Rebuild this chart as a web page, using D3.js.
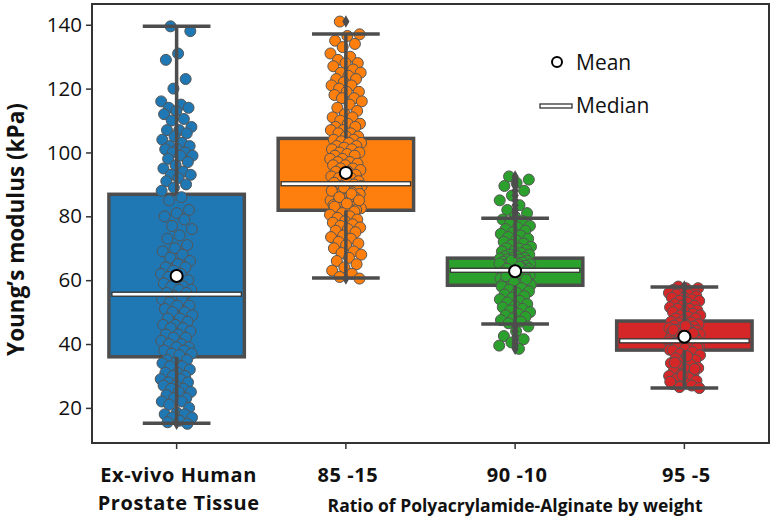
<!DOCTYPE html>
<html>
<head>
<meta charset="utf-8">
<script src="https://cdn.jsdelivr.net/npm/d3@7"></script>
<style>
  body { margin: 0; background: #fff; }
  svg { display: block; }
</style>
</head>
<body>
<svg id="chart" width="778" height="522"></svg>
<script>
// categories and tick labels
const categories = ["tissue", "85-15", "90-10", "95-5"];
const tickLabels = [["Ex-vivo Human", "Prostate Tissue"], ["85 -15"], ["90 -10"], ["95 -5"]];
const colors = ["#1f77b4", "#ff7f0e", "#2ca02c", "#d62728"];
const yTicks = [20, 40, 60, 80, 100, 120, 140];

// box statistics
const q1 = [36.0, 81.9, 58.4, 38.1];
const medians = [55.6, 90.2, 63.1, 41.0];
const q3 = [86.9, 104.4, 66.9, 47.2];
const whiskerLow = [15.2, 60.7, 46.3, 26.2];
const whiskerHigh = [139.5, 137.1, 79.4, 57.9];
const means = [61.3, 93.6, 62.8, 42.3];

// individual measurements (kPa)
const tissuePoints = [
  139.5, 138, 131, 129, 123, 120, 116, 115, 114, 114, 113, 112, 110.5, 110, 108, 107, 107, 106, 105, 104,
  103, 102, 102, 101, 101, 100, 100, 99, 99, 98, 97, 96, 95, 94, 93, 93, 92, 91, 90, 89, 88,
  86, 85, 82, 81, 80, 79, 77, 76, 74, 73, 71, 70, 69, 68, 67, 66, 65, 64, 64, 63, 62, 62, 61, 60, 60,
  59, 58, 58, 57, 57, 56, 56,
  55, 54, 54, 53, 52, 52, 51, 50, 50, 49, 48, 48, 47, 46, 46, 45, 45, 44, 43, 43, 42, 42, 41, 40, 40,
  39, 39, 38, 38, 37, 37, 36.5,
  35, 35, 34, 34, 33, 33, 32, 31, 31, 30, 30, 29, 29, 28, 28, 27, 27, 26, 26, 25, 25, 24, 23, 23, 22,
  22, 21, 20, 18.5, 18, 18, 17, 17, 16, 15.5, 15
];
const pa8515Points = [
  141, 137, 136.5, 135, 134, 133, 131, 130, 129, 128, 128, 127, 126, 125, 125, 124, 123, 123, 122, 121,
  121, 120, 119, 119, 118, 117, 117, 116, 115, 114, 113, 112, 111, 111, 110, 109, 109, 108, 108, 107,
  107, 106, 106, 105, 105,
  104, 104, 103.5, 103, 103, 102, 102, 101.5, 101, 101, 100, 100, 99.5, 99, 99, 98, 98, 97, 97, 96.5,
  96, 96, 95, 95, 94.5, 94, 94, 93, 93, 92.5, 92, 92, 91, 91, 90.5, 90,
  89.5, 89.5, 89, 89, 88.5, 88, 88, 87.5, 87, 87, 86.5, 86, 86, 85.5, 85, 85, 84.5, 84, 84, 83.5,
  83, 83, 82.5, 82.5, 82, 82, 89, 88, 87, 86, 85, 84, 83,
  81.5, 81, 80.5, 80, 79.5, 79, 78.5, 78, 77.5, 77, 76.5, 76, 75.5, 75, 74, 73.5, 73, 72, 71.5, 71,
  70, 69, 68.5, 68, 67, 66, 65, 64, 63, 62, 61, 60.5
];
const pa9010Points = [
  92.5, 91.5, 90.5, 89.5, 88, 86.5, 85, 83.5, 82, 81, 80,
  79, 78.5, 78, 77, 76.5, 76, 75.5, 75, 74.5, 74, 73.5, 73, 72.5, 72, 71.5, 71, 70.5, 70, 70, 69.5,
  69, 69, 68.5, 68, 68, 67.5, 67.5, 67, 67,
  66.8, 66.5, 66.5, 66, 66, 65.8, 65.5, 65.5, 65, 65, 64.8, 64.5, 64.5, 64, 64, 63.8, 63.5, 63.5,
  63.2, 63, 66.2, 65.2, 64.2, 63.6,
  62.8, 62.5, 62.5, 62, 62, 61.5, 61.5, 61, 61, 60.5, 60.5, 60, 60, 59.5, 59.5, 59, 59, 58.5, 58.5,
  62.2, 61.2, 60.2, 59.2,
  58, 57.5, 57, 56.5, 56, 55.5, 55, 54.5, 54, 53.5, 53, 52.5, 52, 51.5, 51, 50.5, 50, 49.5, 49,
  48.5, 48, 47.5, 47, 46.5, 45.5, 44, 42.5, 41.5, 40.5, 39.5, 38.5
];
const pa955Points = [
  58, 57.5, 57.5, 57, 56.5, 56.5, 56, 55.5, 55.5, 55, 54.5, 54.5, 54, 53.5, 53.5, 53, 52.5, 52, 52,
  51.5, 51, 51, 50.5, 50, 50, 49.5, 49, 49, 48.5, 48, 48, 47.5,
  47, 46.8, 46.5, 46.2, 46, 45.8, 45.5, 45.2, 45, 44.8, 44.5, 44.2, 44, 43.8, 43.5, 43.2, 43, 42.8,
  42.5, 42.2, 42, 41.8, 41.5, 41.2, 41, 45.6, 44.4, 43.4, 42.4,
  40.8, 40.6, 40.4, 40.2, 40, 39.8, 39.6, 39.4, 39.2, 39, 38.8, 38.6, 38.4, 38.2, 40.5, 39.5, 39, 38.5,
  38, 37.5, 37, 36.5, 36, 35.5, 35, 34.5, 34, 33.5, 33, 32.5, 32, 31.5, 31, 30.5, 30, 29.5, 29,
  28.5, 28, 27.5, 27, 26.5, 26.2, 36.2, 34.2, 32.2, 30.2, 28.2
];
const groupPoints = [tissuePoints, pa8515Points, pa9010Points, pa955Points];

const plot = { left: 92, right: 769, top: 4, bottom: 443 };
const svg = d3.select("#chart");
const font = "'Open Sans', 'Noto Sans', sans-serif";
const edge = "#4d4d4d";

const x = d3.scaleBand().domain(categories).range([plot.left, plot.right]).padding(0);
const y = d3.scaleLinear().domain([9, 146.5]).range([plot.bottom, plot.top]);

const bw = x.bandwidth() * 0.8;
const cx = c => x(c) + x.bandwidth() / 2;

categories.forEach((c, i) => {
  const g = svg.append("g");
  const xc = cx(c);
  // box
  g.append("rect")
    .attr("x", xc - bw / 2).attr("width", bw)
    .attr("y", y(q3[i])).attr("height", y(q1[i]) - y(q3[i]))
    .attr("fill", colors[i]).attr("stroke", edge).attr("stroke-width", 3.5);

  // jittered points
  g.selectAll("circle.pt")
    .data(groupPoints[i])
    .join("circle")
    .attr("class", "pt")
    .attr("cx", (d, k) => xc + (((k * 0.618034 + 0.31) % 1) - 0.5) * 2 * 16)
    .attr("cy", d => y(d))
    .attr("r", 5.5)
    .attr("fill", colors[i])
    .attr("stroke", "#555")
    .attr("stroke-width", 1);

  // whiskers
  g.append("line").attr("x1", xc).attr("x2", xc)
    .attr("y1", y(q3[i])).attr("y2", y(whiskerHigh[i]))
    .attr("stroke", edge).attr("stroke-width", 3.5);
  g.append("line").attr("x1", xc).attr("x2", xc)
    .attr("y1", y(q1[i])).attr("y2", y(whiskerLow[i]))
    .attr("stroke", edge).attr("stroke-width", 3.5);
  [whiskerLow[i], whiskerHigh[i]].forEach(v => {
    g.append("line").attr("x1", xc - bw / 4).attr("x2", xc + bw / 4)
      .attr("y1", y(v)).attr("y2", y(v))
      .attr("stroke", edge).attr("stroke-width", 3.5);
  });

  // fliers
  const fliers = groupPoints[i].filter(v => v > whiskerHigh[i] || v < whiskerLow[i]);
  g.selectAll("path.flier")
    .data(fliers)
    .join("path")
    .attr("class", "flier")
    .attr("d", d3.symbol(d3.symbolDiamond, 45))
    .attr("transform", d => `translate(${xc},${y(d)})`)
    .attr("fill", edge);

  // median
  g.append("rect")
    .attr("x", xc - bw / 2 + 3).attr("width", bw - 6)
    .attr("y", y(medians[i]) - 2).attr("height", 4)
    .attr("fill", "#fff").attr("stroke", "#333").attr("stroke-width", 1.3);

  // mean
  g.append("circle")
    .attr("cx", xc).attr("cy", y(means[i])).attr("r", 6)
    .attr("fill", "#fff").attr("stroke", "#000").attr("stroke-width", 2);
});

// frame
svg.append("rect")
  .attr("x", plot.left).attr("y", plot.top)
  .attr("width", plot.right - plot.left).attr("height", plot.bottom - plot.top)
  .attr("fill", "none").attr("stroke", "#333").attr("stroke-width", 2);

// y axis
const yAxis = svg.append("g")
  .attr("transform", `translate(${plot.left},0)`)
  .call(d3.axisLeft(y).tickValues(yTicks).tickSize(6).tickPadding(4));
yAxis.select(".domain").remove();
yAxis.selectAll(".tick line").attr("stroke", "#333").attr("stroke-width", 1.5);
yAxis.selectAll(".tick text")
  .attr("font-family", font).attr("font-size", 20.5).attr("fill", "#111");

// x axis ticks and labels
const xAxis = svg.append("g")
  .attr("transform", `translate(0,${plot.bottom})`)
  .call(d3.axisBottom(x).tickSize(6).tickFormat(""));
xAxis.select(".domain").remove();
xAxis.selectAll(".tick line").attr("stroke", "#333").attr("stroke-width", 1.5);

categories.forEach((c, i) => {
  const t = svg.append("text")
    .attr("x", cx(c) + 2).attr("y", 482)
    .attr("text-anchor", "middle")
    .attr("font-family", font).attr("font-weight", "bold")
    .attr("font-size", 20).attr("letter-spacing", 0.6).attr("fill", "#111");
  tickLabels[i].forEach((line, k) => {
    t.append("tspan").attr("x", cx(c) + 2).attr("dy", k === 0 ? 0 : 27.5).text(line);
  });
});

svg.append("text")
  .attr("x", cx(categories[2])).attr("y", 512)
  .attr("text-anchor", "middle")
  .attr("font-family", font).attr("font-weight", "bold")
  .attr("font-size", 17.5).attr("fill", "#111")
  .text("Ratio of Polyacrylamide-Alginate by weight");

svg.append("text")
  .attr("transform", `translate(24,${(plot.top + plot.bottom) / 2 + 6}) rotate(-90)`)
  .attr("text-anchor", "middle")
  .attr("font-family", font).attr("font-weight", "bold")
  .attr("font-size", 22.5).attr("fill", "#111")
  .text("Young’s modulus (kPa)");

// legend
const legend = svg.append("g");
legend.append("circle").attr("cx", 557).attr("cy", 62).attr("r", 5)
  .attr("fill", "#fff").attr("stroke", "#000").attr("stroke-width", 2);
legend.append("text").attr("x", 576).attr("y", 70)
  .attr("font-family", font).attr("font-size", 21).attr("fill", "#111").text("Mean");
legend.append("rect").attr("x", 540).attr("y", 104).attr("width", 32).attr("height", 4)
  .attr("fill", "#fff").attr("stroke", "#333").attr("stroke-width", 1.3);
legend.append("text").attr("x", 576).attr("y", 113)
  .attr("font-family", font).attr("font-size", 21).attr("fill", "#111").text("Median");
</script>
</body>
</html>
